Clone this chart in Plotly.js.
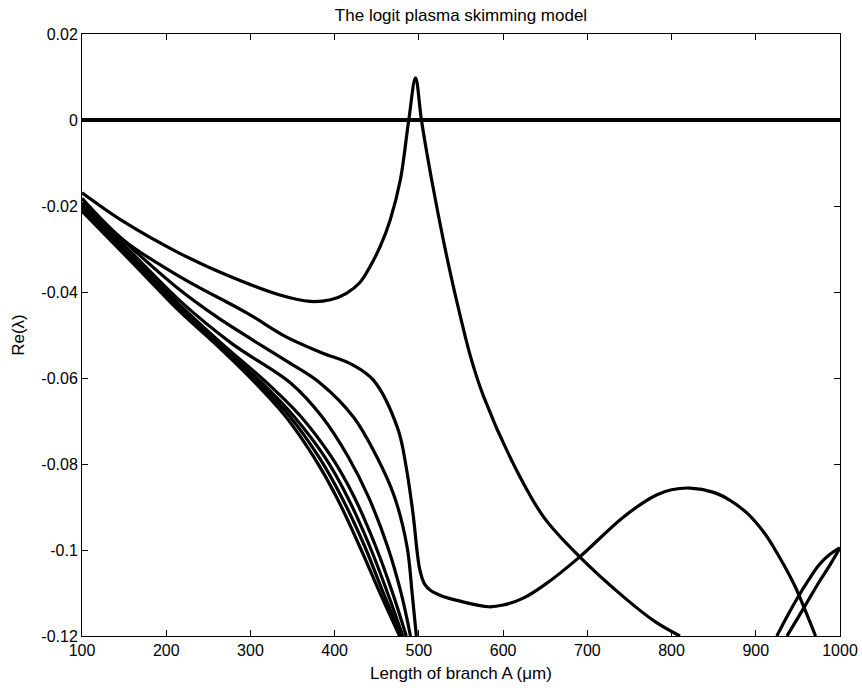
<!DOCTYPE html>
<html>
<head>
<meta charset="utf-8">
<script src="https://cdn.plot.ly/plotly-3.0.1.min.js"></script>
<style>html,body{margin:0;padding:0;background:#fff;}</style>
</head>
<body>
<div id="chart" style="width:862px;height:688px;"></div>
<script>
// ---- data ----
const zeroX = [100, 1000];
const zeroY = [0, 0];

const peakX = [100, 150, 216, 276, 335, 371, 395, 414, 430, 442, 455, 466, 478, 488, 496, 503, 512, 522, 535, 549, 562, 577, 612, 648, 691, 743, 780, 810];
const peakY = [-0.0169, -0.0237, -0.0310, -0.0364, -0.0407, -0.0422, -0.0418, -0.0403, -0.0378, -0.0341, -0.0290, -0.0232, -0.0139, 0.0000, 0.0098, 0.0000, -0.0105, -0.0210, -0.0335, -0.0455, -0.0555, -0.0644, -0.0799, -0.0923, -0.1016, -0.1109, -0.1166, -0.1200];

const wavyX = [100, 150, 216, 296, 343, 383, 422, 446, 475, 485, 493, 501, 507, 514, 525, 549, 583, 600, 624, 650, 691, 743, 782, 800, 822, 850, 870, 890, 910, 921, 945, 957, 971];
const wavyY = [-0.0182, -0.0280, -0.0364, -0.0449, -0.0505, -0.0540, -0.0570, -0.0605, -0.0718, -0.0808, -0.0915, -0.1045, -0.1080, -0.1094, -0.1105, -0.1119, -0.1132, -0.1128, -0.1112, -0.1080, -0.1016, -0.0923, -0.0872, -0.0860, -0.0856, -0.0866, -0.0885, -0.0915, -0.0960, -0.0993, -0.1078, -0.1132, -0.1200];

const c3X = [100, 160, 216, 260, 303, 345, 383, 422, 450, 471, 486, 492, 497];
const c3Y = [-0.0192, -0.0300, -0.0395, -0.0458, -0.0512, -0.0563, -0.0612, -0.0690, -0.0783, -0.0876, -0.0993, -0.1101, -0.1200];

const c4X = [100, 160, 216, 278, 348, 385, 416, 440, 463, 479, 490];
const c4Y = [-0.0198, -0.0311, -0.0420, -0.0520, -0.0612, -0.0690, -0.0783, -0.0876, -0.0993, -0.1101, -0.1200];

const c5X = [100, 160, 216, 266, 320, 360, 396, 423, 449, 469, 485];
const c5Y = [-0.0202, -0.0319, -0.0430, -0.0520, -0.0612, -0.0690, -0.0783, -0.0876, -0.0993, -0.1101, -0.1200];

const c6X = [100, 160, 216, 262, 314, 352, 388, 415, 442, 463, 481];
const c6Y = [-0.0206, -0.0325, -0.0436, -0.0520, -0.0612, -0.0690, -0.0783, -0.0876, -0.0993, -0.1101, -0.1200];

const c7X = [100, 160, 216, 260, 310, 347, 381, 408, 436, 458, 479];
const c7Y = [-0.0209, -0.0328, -0.0440, -0.0520, -0.0612, -0.0690, -0.0783, -0.0876, -0.0993, -0.1101, -0.1200];

const c8X = [100, 160, 216, 258, 306, 342, 375, 402, 430, 454, 477];
const c8Y = [-0.0212, -0.0332, -0.0445, -0.0520, -0.0612, -0.0690, -0.0783, -0.0876, -0.0993, -0.1101, -0.1200];

const lensAX = [925, 937, 950, 962, 975, 988, 1000];
const lensAY = [-0.1200, -0.1155, -0.1110, -0.1072, -0.1035, -0.1010, -0.0995];
const lensBX = [937, 950, 962, 975, 988, 1000];
const lensBY = [-0.1200, -0.1158, -0.1118, -0.1075, -0.1035, -0.0995];

const xTicks = [100, 200, 300, 400, 500, 600, 700, 800, 900, 1000];
const xTickText = ['100', '200', '300', '400', '500', '600', '700', '800', '900', '1000'];
const yTicks = [-0.12, -0.1, -0.08, -0.06, -0.04, -0.02, 0, 0.02];
const yTickText = ['-0.12', '-0.1', '-0.08', '-0.06', '-0.04', '-0.02', '0', '0.02'];

const titleText = 'The logit plasma skimming model';
const xTitle = 'Length of branch A (\u03bcm)';
const yTitle = 'Re(\u03bb)';

// ---- build ----
const FONT = 'Liberation Sans, Arial, Helvetica, sans-serif';
const series = [
  [zeroX, zeroY, 'linear', 4],
  [peakX, peakY, 'spline', 3.2],
  [wavyX, wavyY, 'spline', 3.2],
  [c3X, c3Y, 'spline', 3.2],
  [c4X, c4Y, 'spline', 3.2],
  [c5X, c5Y, 'spline', 3.2],
  [c6X, c6Y, 'spline', 3.2],
  [c7X, c7Y, 'spline', 3.2],
  [c8X, c8Y, 'spline', 3.2],
  [lensAX, lensAY, 'spline', 3.2],
  [lensBX, lensBY, 'spline', 3.2]
];
const traces = series.map(s => ({
  x: s[0], y: s[1], type: 'scatter', mode: 'lines',
  line: {color: '#000', width: s[3], shape: s[2], smoothing: 1},
  hoverinfo: 'skip'
}));

const axisBase = {
  ticks: 'inside', ticklen: 6, tickwidth: 1, tickcolor: '#000',
  showline: true, linecolor: '#000', linewidth: 1, mirror: 'ticks',
  showgrid: false, zeroline: false,
  tickfont: {family: FONT, size: 16, color: '#000'}
};

const layout = {
  width: 862, height: 688,
  margin: {l: 82, r: 22, t: 34, b: 52},
  paper_bgcolor: '#fff', plot_bgcolor: '#fff',
  showlegend: false,
  font: {family: FONT, color: '#000'},
  title: {text: titleText, font: {family: FONT, size: 17, color: '#000'},
          xref: 'paper', x: 0.5, xanchor: 'center',
          yref: 'container', y: 1 - 15 / 688, yanchor: 'middle'},
  xaxis: Object.assign({}, axisBase, {
    range: [100, 1000], tickmode: 'array', tickvals: xTicks, ticktext: xTickText,
    title: {text: xTitle, font: {family: FONT, size: 17, color: '#000'}, standoff: 8}
  }),
  yaxis: Object.assign({}, axisBase, {
    range: [-0.12, 0.02], tickmode: 'array', tickvals: yTicks, ticktext: yTickText,
    title: {text: yTitle, font: {family: FONT, size: 17, color: '#000'}, standoff: 12}
  })
};

Plotly.newPlot('chart', traces, layout, {staticPlot: true, displayModeBar: false});
</script>
</body>
</html>
